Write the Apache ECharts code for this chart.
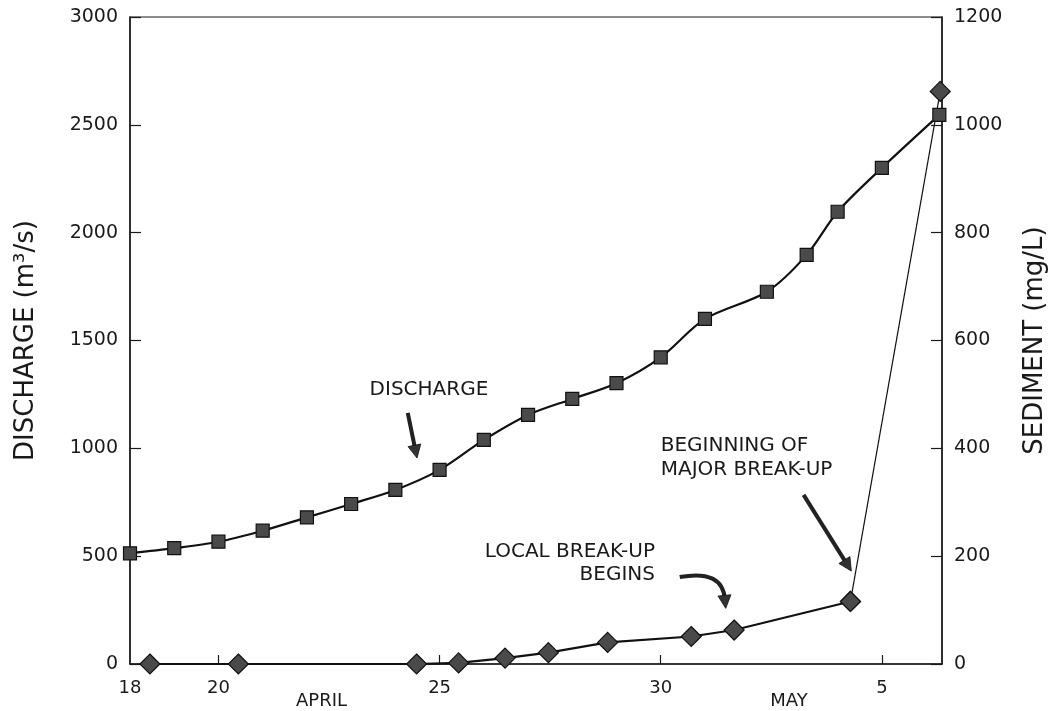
<!DOCTYPE html>
<html>
<head>
<meta charset="utf-8">
<script src="https://cdn.jsdelivr.net/npm/echarts@6/dist/echarts.min.js"></script>
<style>html,body{margin:0;padding:0;background:#fff;}#c{width:1056px;height:711px;}</style>
</head>
<body>
<div id="c"></div>
<script>
// ---- data (x = day counted from April 1; May 5 = 35) ----
const dischargeDays = [18, 19, 20, 21, 22, 23, 24, 25, 26, 27, 28, 29, 30, 31, 32.4, 33.3, 34, 35, 36.3];
const dischargeVals = [513, 537, 567, 618, 680, 742, 807, 900, 1039, 1155, 1229, 1302, 1422, 1600, 1726, 1897, 2097, 2300, 2546];
const sedimentDays = [18.45, 20.45, 24.48, 25.43, 26.48, 27.46, 28.8, 30.69, 31.66, 34.29, 36.32];
const sedimentVals = [0, 0, 0, 2, 11, 21, 40, 51, 63, 116, 1062];
const xTickValues = [18, 20, 25, 30, 35];
const xTickLabels = ['18', '20', '25', '30', '5'];
const monthLabelDays = [22.33, 32.9];
const monthLabels = ['APRIL', 'MAY'];

const FONT = '"DejaVu Sans"';
const INK = '#1a1a1a';

const dischargeData = dischargeDays.map((d, i) => [d, dischargeVals[i]]);
const sedData = sedimentDays.map((d, i) => [d, sedimentVals[i]]);
const sedMain = sedData.slice(0, sedData.length - 1);
const sedRise = sedData.slice(sedData.length - 2);

const chart = echarts.init(document.getElementById('c'), null, {renderer: 'canvas'});

const markerStyle = {color: '#4a4a4a', borderColor: '#111', borderWidth: 1.2};

chart.setOption({
  animation: false,
  backgroundColor: '#fff',
  grid: {left: 130, right: 111, top: 17, bottom: 47, show: true, borderColor: INK, borderWidth: 1.2, backgroundColor: 'transparent'},
  xAxis: [{
    type: 'value', min: 18, max: 36.36,
    axisLine: {show: true, onZero: false, lineStyle: {color: INK, width: 1.5}},
    axisTick: {show: true, inside: true, length: 9, customValues: xTickValues.slice(1), lineStyle: {color: INK, width: 1.2}},
    axisLabel: {show: true, customValues: xTickValues, margin: 15, fontFamily: FONT, fontSize: 18, color: INK,
      formatter: v => { const i = xTickValues.indexOf(v); return i >= 0 ? xTickLabels[i] : ''; }},
    splitLine: {show: false}
  }, {
    type: 'value', min: 18, max: 36.36, position: 'bottom',
    axisLine: {show: false}, axisTick: {show: false}, splitLine: {show: false},
    axisLabel: {show: true, customValues: monthLabelDays, margin: 28, fontFamily: FONT, fontSize: 18, color: INK,
      formatter: v => { const i = monthLabelDays.indexOf(v); return i >= 0 ? monthLabels[i] : ''; }}
  }],
  yAxis: [{
    type: 'value', min: 0, max: 3000, interval: 500, position: 'left',
    name: 'DISCHARGE (m³/s)', nameLocation: 'middle', nameGap: 91, nameRotate: 90,
    nameTextStyle: {fontFamily: FONT, fontSize: 26, color: INK},
    axisLine: {show: true, lineStyle: {color: INK, width: 1.5}},
    axisTick: {show: true, inside: true, length: 11, lineStyle: {color: INK, width: 1.2}},
    axisLabel: {margin: 12, fontFamily: FONT, fontSize: 19, color: INK, formatter: v => String(v)},
    splitLine: {show: false}
  }, {
    type: 'value', min: 0, max: 1200, interval: 200, position: 'right',
    name: 'SEDIMENT (mg/L)', nameLocation: 'middle', nameGap: 80, nameRotate: 90,
    nameTextStyle: {fontFamily: FONT, fontSize: 26, color: INK},
    axisLine: {show: true, lineStyle: {color: INK, width: 1.5}},
    axisTick: {show: true, inside: true, length: 11, lineStyle: {color: INK, width: 1.2}},
    axisLabel: {margin: 12, fontFamily: FONT, fontSize: 19, color: INK, formatter: v => String(v)},
    splitLine: {show: false}
  }],
  series: [{
    name: 'Discharge', type: 'line', xAxisIndex: 0, yAxisIndex: 0, data: dischargeData,
    smooth: 0.3, symbol: 'rect', symbolSize: 13, showAllSymbol: true,
    lineStyle: {color: '#111', width: 2.2}, itemStyle: markerStyle, z: 4
  }, {
    name: 'Sediment rise', type: 'line', xAxisIndex: 0, yAxisIndex: 1, data: sedRise,
    symbol: 'diamond', symbolSize: 20,
    lineStyle: {color: '#111', width: 1.2}, itemStyle: markerStyle, z: 3
  }, {
    name: 'Sediment', type: 'line', xAxisIndex: 0, yAxisIndex: 1, data: sedMain,
    symbol: 'diamond', symbolSize: 20, showAllSymbol: true,
    lineStyle: {color: '#111', width: 2.2}, itemStyle: markerStyle, z: 5
  }]
});

// ---- annotations positioned in data coordinates (left axis) ----
function P(d, v) { return chart.convertToPixel({xAxisIndex: 0, yAxisIndex: 0}, [d, v]); }
function arrowHead(tip, from, len, half) {
  const dx = tip[0] - from[0], dy = tip[1] - from[1];
  const L = Math.hypot(dx, dy), ux = dx / L, uy = dy / L;
  const bx = tip[0] - ux * len, by = tip[1] - uy * len;
  return {type: 'polygon', shape: {points: [[tip[0], tip[1]], [bx - uy * half, by + ux * half], [bx + uy * half, by - ux * half]]},
    style: {fill: '#333', stroke: '#111', lineWidth: 0.8}, z: 20};
}
function straightArrow(from, to) {
  const dx = to[0] - from[0], dy = to[1] - from[1];
  const L = Math.hypot(dx, dy);
  const end = [to[0] - dx / L * 10, to[1] - dy / L * 10];
  return [
    {type: 'line', shape: {x1: from[0], y1: from[1], x2: end[0], y2: end[1]}, style: {stroke: '#222', lineWidth: 4}, z: 20},
    arrowHead(to, from, 13, 6.5)
  ];
}
const txt = (pos, text, align) => ({type: 'text', x: pos[0], y: pos[1], z: 20,
  style: {text: text, fontFamily: FONT, fontSize: 20, fill: INK, align: align, verticalAlign: 'middle'}});

const g = [];
g.push(txt(P(24.76, 1270), 'DISCHARGE', 'center'));
g.push(...straightArrow(P(24.28, 1164), P(24.49, 955)));
g.push(txt(P(30.0, 1011), 'BEGINNING OF', 'left'));
g.push(txt(P(30.0, 900), 'MAJOR BREAK-UP', 'left'));
g.push(...straightArrow(P(33.23, 784), P(34.31, 431)));
g.push(txt(P(29.87, 519), 'LOCAL BREAK-UP', 'right'));
g.push(txt(P(29.87, 413), 'BEGINS', 'right'));
const c0 = P(30.43, 403), c1 = P(31.4, 440), c2 = P(31.45, 300), tip = P(31.47, 258);
g.push({type: 'bezierCurve', shape: {x1: c0[0], y1: c0[1], cpx1: c1[0], cpy1: c1[1], x2: c2[0], y2: c2[1]},
  style: {stroke: '#222', lineWidth: 4, fill: 'none'}, z: 20});
g.push(arrowHead(tip, c2, 13, 6.5));
chart.setOption({graphic: g});
</script>
</body>
</html>
